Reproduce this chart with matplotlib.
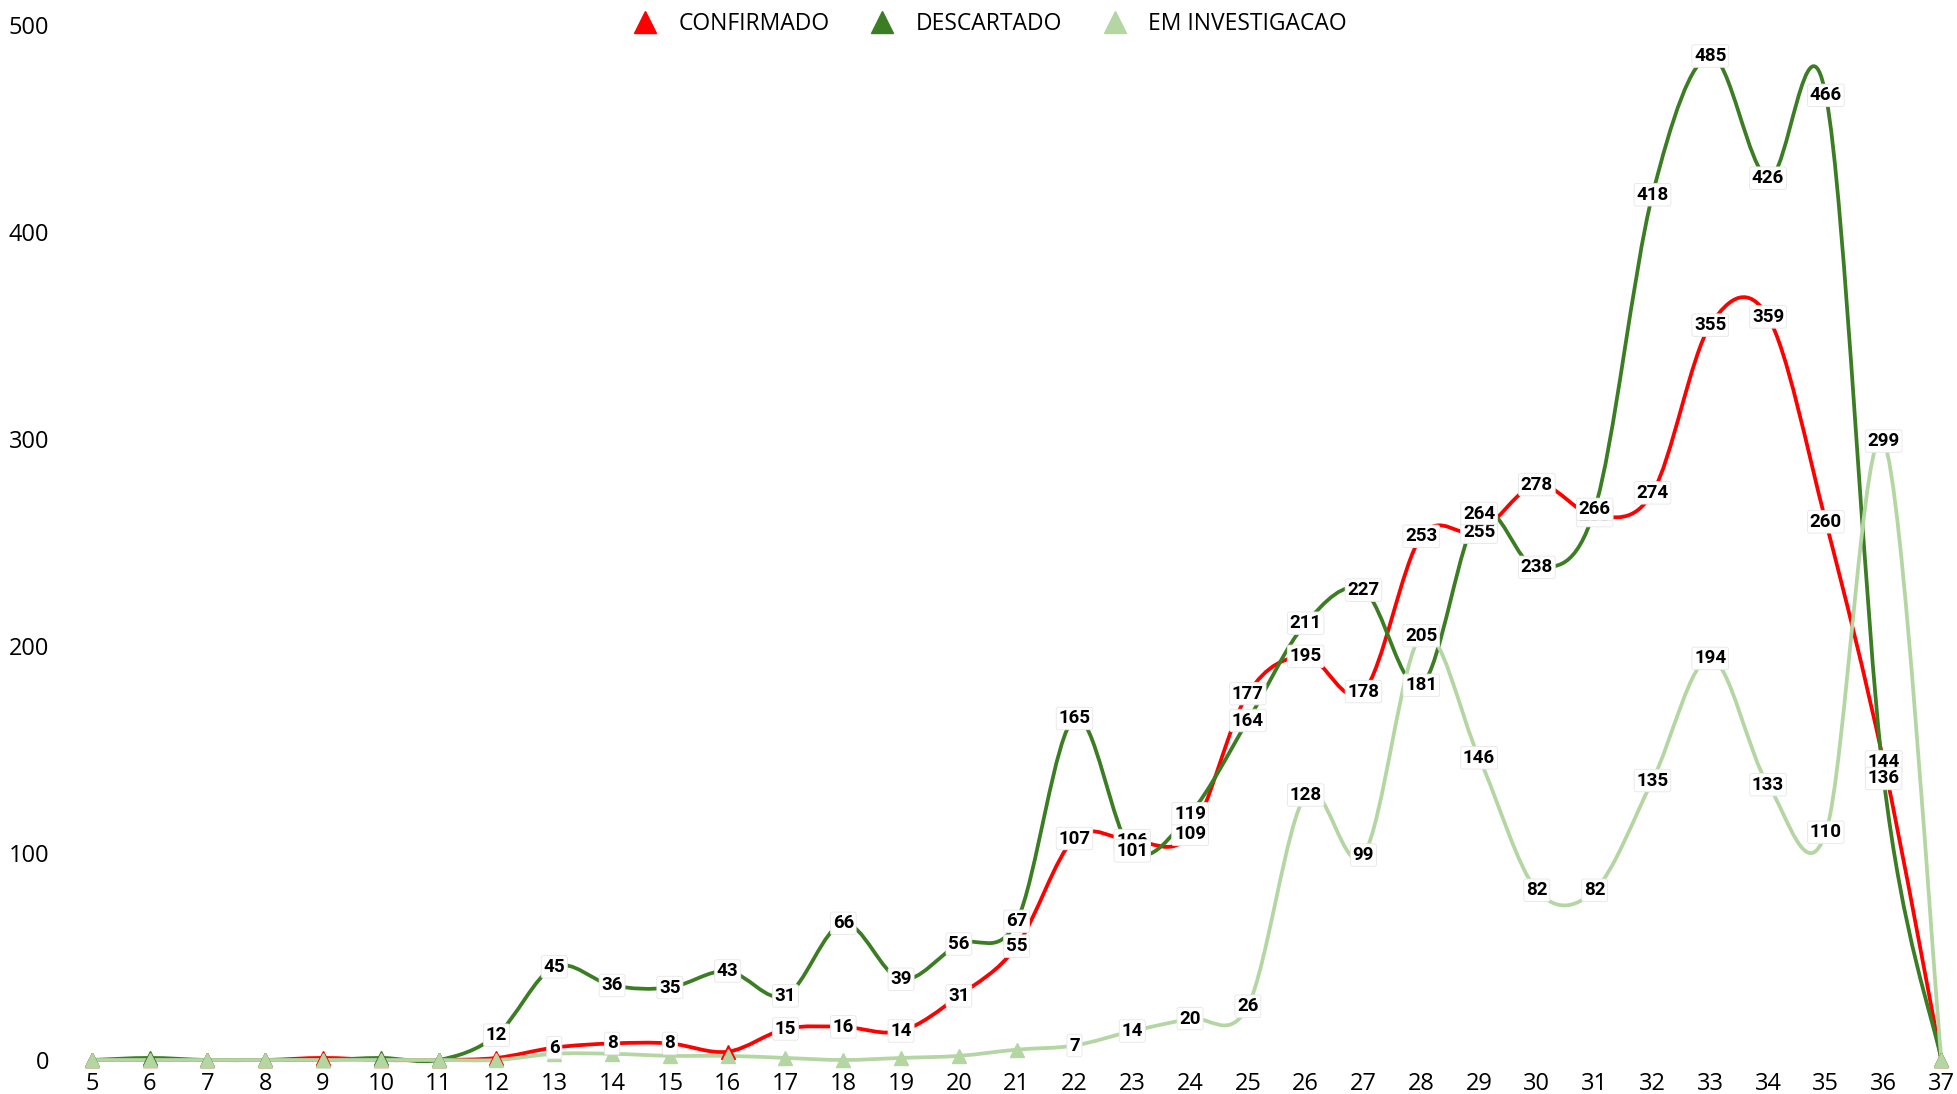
import numpy as np
import matplotlib.pyplot as plt
from matplotlib.path import Path
from matplotlib.patches import PathPatch
from matplotlib.lines import Line2D

semanas = list(range(5, 38))

confirmado = [0, 0, 0, 0, 1, 0, 0, 1, 6, 8, 8, 4, 15, 16, 14, 31, 55, 107, 106, 109,
              177, 195, 178, 253, 255, 278, 263, 274, 355, 359, 260, 144, 0]
descartado = [0, 1, 0, 0, 0, 1, 0, 12, 45, 36, 35, 43, 31, 66, 39, 56, 67, 165, 101, 119,
              164, 211, 227, 181, 264, 238, 266, 418, 485, 426, 466, 136, 0]
investigacao = [0, 0, 0, 0, 0, 0, 0, 0, 3, 3, 2, 2, 1, 0, 1, 2, 5, 7, 14, 20,
                26, 128, 99, 205, 146, 82, 82, 135, 194, 133, 110, 299, 0]

series = ['CONFIRMADO', 'DESCARTADO', 'EM INVESTIGACAO']
cores = ['#ff0000', '#3b7d23', '#b4d6a3']


def curva_suave(x, y):
    # bezier estilo Excel (catmull-rom)
    x = np.asarray(x, float)
    y = np.asarray(y, float)
    pts = np.column_stack([x, y])
    n = len(pts)
    verts = [pts[0]]
    codes = [Path.MOVETO]
    for i in range(n - 1):
        p0 = pts[max(i - 1, 0)]
        p1 = pts[i]
        p2 = pts[i + 1]
        p3 = pts[min(i + 2, n - 1)]
        c1 = p1 + (p2 - p0) / 6
        c2 = p2 - (p3 - p1) / 6
        verts += [c1, c2, p2]
        codes += [Path.CURVE4] * 3
    return Path(verts, codes)


fig = plt.figure(figsize=(19.57, 10.94), dpi=100)
ax = fig.add_axes([63 / 1957, 34 / 1094, (1953 - 63) / 1957, 1035 / 1094])

for nome, vals, cor in zip(series, [confirmado, descartado, investigacao], cores):
    patch = PathPatch(curva_suave(semanas, vals), fill=False, edgecolor=cor, lw=2.7,
                      clip_on=False, capstyle='round', joinstyle='round')
    ax.add_patch(patch)
    xs = [s for s, v in zip(semanas, vals) if v < 6]
    ys = [v for v in vals if v < 6]
    ax.plot(xs, ys, ls='none', marker='^', ms=10, color=cor, clip_on=False)

for vals in [confirmado, descartado, investigacao]:
    for s, v in zip(semanas, vals):
        if v >= 6:
            ax.text(s, v, str(v), ha='center', va='center', fontsize=13.5,
                    fontweight='bold', family='Roboto', color='black', zorder=5,
                    bbox=dict(boxstyle='round,pad=0.12', fc='white', ec='#e6e6e6', lw=0.6))

ax.set_xlim(4.5, 37.2)
ax.set_ylim(0, 500)
ax.set_xticks(semanas)
ax.set_yticks([0, 100, 200, 300, 400, 500])
ax.tick_params(length=0, labelsize=17)
ax.tick_params(axis='x', pad=9)
ax.tick_params(axis='y', pad=10)
for lbl in ax.get_xticklabels() + ax.get_yticklabels():
    lbl.set_family('Open Sans')
for sp in ax.spines.values():
    sp.set_visible(False)

handles = [Line2D([], [], ls='none', marker='^', ms=16, color=c) for c in cores]
leg = fig.legend(handles, series, loc='upper center', bbox_to_anchor=(0.503, 1.008),
                 ncol=3, frameon=False, handletextpad=0.45, columnspacing=1.3,
                 prop={'family': 'Open Sans', 'size': 16.5})

fig.savefig('out.png', dpi=100)
